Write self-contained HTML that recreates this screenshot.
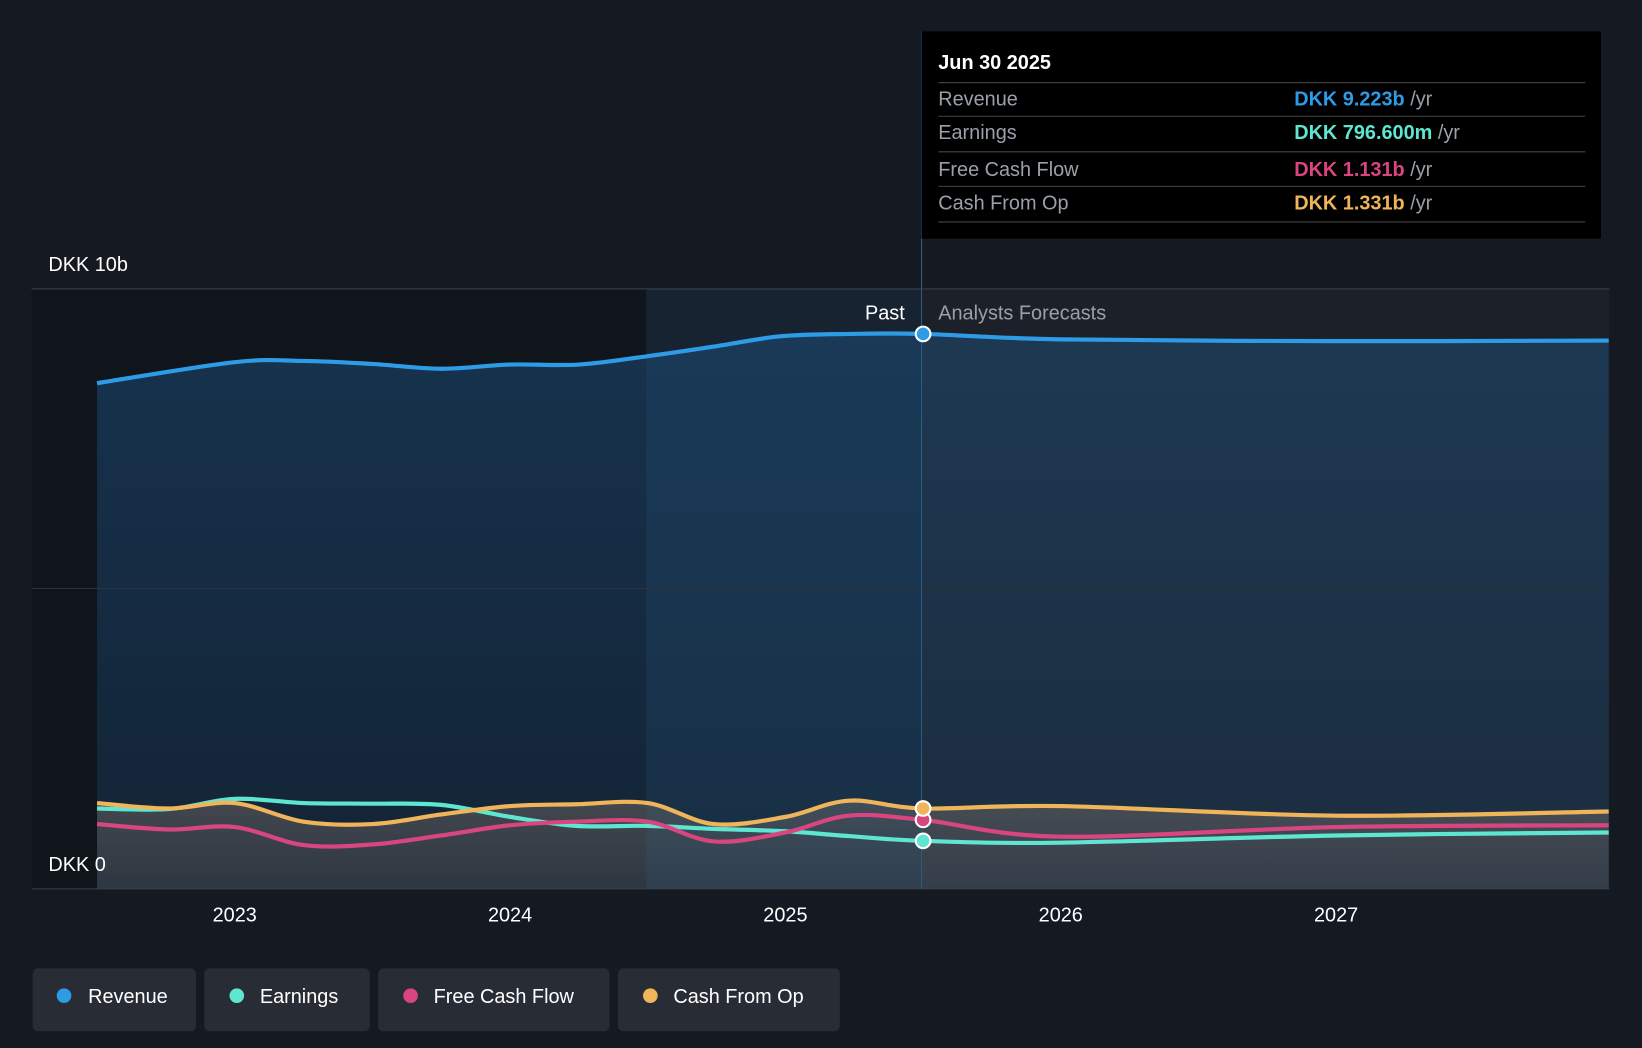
<!DOCTYPE html>
<html><head><meta charset="utf-8"><style>
html,body{margin:0;padding:0;background:#151a22;}
svg{display:block;font-family:"Liberation Sans",Arial,sans-serif;}
</style></head><body>
<svg id="chart" width="1642" height="1048" viewBox="0 0 1568 1001">
<defs>
<linearGradient id="revG" x1="0" y1="0" x2="0" y2="1"><stop offset="0" stop-color="#183a5a" stop-opacity="0.8"/><stop offset="1" stop-color="#183a5a" stop-opacity="0.4"/></linearGradient>
<linearGradient id="lowG" x1="0" y1="0" x2="0" y2="1"><stop offset="0" stop-color="#8a7a70" stop-opacity="0.4"/><stop offset="1" stop-color="#8a7a70" stop-opacity="0.22"/></linearGradient>
</defs>
<rect width="1568" height="1001" fill="#151a22"/>
<rect x="30" y="276" width="587" height="573" fill="#10141b"/>
<g id="areas"></g>
<rect x="880" y="276" width="657" height="573" fill="#6a7480" opacity="0.08"/>
<rect x="617" y="276" width="263" height="573" fill="#2a6aa0" opacity="0.12"/>
<line x1="30" y1="276" x2="1537" y2="276" stroke="#3a404a"/>
<line x1="30" y1="562" x2="1537" y2="562" stroke="#2c333d"/>
<line x1="30" y1="849" x2="1537" y2="849" stroke="#3a404a"/>
<line x1="880" y1="30" x2="880" y2="849" stroke="#2d5b80"/>
<g id="lines"></g>
<g id="xticks"></g>
<text x="46" y="259" fill="#fff" font-size="19">DKK 10b</text>
<text x="46" y="832" fill="#fff" font-size="19">DKK 0</text>
<text x="864" y="305" fill="#fff" font-size="19" text-anchor="end">Past</text>
<text x="896" y="305" fill="#9aa0a8" font-size="19">Analysts Forecasts</text>
<g>
<rect x="880" y="30" width="649" height="198" fill="#000"/>
<text x="896" y="66" fill="#fff" font-size="19" font-weight="bold">Jun 30 2025</text>
<line x1="896" y1="79" x2="1514" y2="79" stroke="#444"/>
<text x="896" y="101" fill="#9aa0a8" font-size="19">Revenue</text>
<text x="1236" y="101" font-size="19"><tspan fill="#2e9be6" font-weight="bold">DKK 9.223b</tspan><tspan fill="#9aa0a8"> /yr</tspan></text>
<line x1="896" y1="111" x2="1514" y2="111" stroke="#444"/>
<text x="896" y="133" fill="#9aa0a8" font-size="19">Earnings</text>
<text x="1236" y="133" font-size="19"><tspan fill="#5ee6d0" font-weight="bold">DKK 796.600m</tspan><tspan fill="#9aa0a8"> /yr</tspan></text>
<line x1="896" y1="145" x2="1514" y2="145" stroke="#444"/>
<text x="896" y="168" fill="#9aa0a8" font-size="19">Free Cash Flow</text>
<text x="1236" y="168" font-size="19"><tspan fill="#d9467f" font-weight="bold">DKK 1.131b</tspan><tspan fill="#9aa0a8"> /yr</tspan></text>
<line x1="896" y1="178" x2="1514" y2="178" stroke="#444"/>
<text x="896" y="200" fill="#9aa0a8" font-size="19">Cash From Op</text>
<text x="1236" y="200" font-size="19"><tspan fill="#f0b45a" font-weight="bold">DKK 1.331b</tspan><tspan fill="#9aa0a8"> /yr</tspan></text>
<line x1="896" y1="212" x2="1514" y2="212" stroke="#444"/>
</g>
<g id="dots"></g>
<g>
<g><rect x="31" y="925" width="156" height="60" rx="5" fill="#272c35"/><circle cx="61" cy="951" r="7" fill="#2e9be6"/><text x="84" y="958" fill="#fff" font-size="19">Revenue</text></g>
<g><rect x="195" y="925" width="158" height="60" rx="5" fill="#272c35"/><circle cx="226" cy="951" r="7" fill="#5ee6d0"/><text x="248" y="958" fill="#fff" font-size="19">Earnings</text></g>
<g><rect x="361" y="925" width="221" height="60" rx="5" fill="#272c35"/><circle cx="392" cy="951" r="7" fill="#d9467f"/><text x="414" y="958" fill="#fff" font-size="19">Free Cash Flow</text></g>
<g><rect x="590" y="925" width="212" height="60" rx="5" fill="#272c35"/><circle cx="621" cy="951" r="7" fill="#f0b45a"/><text x="643" y="958" fill="#fff" font-size="19">Cash From Op</text></g>
</g>
</svg>
<script>
const revYears=[2022.5,2023,2023.25,2023.5,2023.75,2024,2024.25,2024.5,2024.74,2024.98,2025.23,2025.5,2026,2027,2027.99];
const revenue=[8.43,8.78,8.80,8.75,8.67,8.74,8.74,8.88,9.04,9.21,9.25,9.25,9.16,9.13,9.14];
const lowYears=[2022.5,2022.76,2023,2023.25,2023.5,2023.75,2024,2024.24,2024.5,2024.74,2025,2025.23,2025.5,2026,2027,2027.99];
const earnings=[1.34,1.33,1.50,1.43,1.42,1.40,1.20,1.05,1.05,1.00,0.96,0.88,0.80,0.77,0.89,0.94];
const fcf=[1.08,0.99,1.03,0.73,0.74,0.89,1.06,1.12,1.12,0.79,0.94,1.22,1.15,0.87,1.03,1.06];
const cfo=[1.43,1.34,1.43,1.12,1.08,1.24,1.38,1.41,1.43,1.08,1.20,1.47,1.34,1.38,1.22,1.29];
const xTicks=[2023,2024,2025,2026,2027];
const NS='http://www.w3.org/2000/svg';
function xS(y){return 224+(y-2023)*263;}
function yS(v){return 849-v*57.3;}
function pathD(xs,vs){const p=xs.map((x,i)=>[xS(x),yS(vs[i])]);let d='M'+p[0][0]+','+p[0][1];
for(let i=0;i<p.length-1;i++){const p0=p[i-1]||p[i],p1=p[i],p2=p[i+1],p3=p[i+2]||p2;
d+=' C'+(p1[0]+(p2[0]-p0[0])/6)+','+(p1[1]+(p2[1]-p0[1])/6)+' '+(p2[0]-(p3[0]-p1[0])/6)+','+(p2[1]-(p3[1]-p1[1])/6)+' '+p2[0]+','+p2[1];}return d;}
function mk(tag,attrs,parent){const e=document.createElementNS(NS,tag);for(const k in attrs)e.setAttribute(k,attrs[k]);document.getElementById(parent).appendChild(e);return e;}
const base=' L'+xS(revYears[revYears.length-1])+','+yS(0)+' L'+xS(revYears[0])+','+yS(0)+' Z';
let a=mk('path',{d:pathD(revYears,revenue)+base,fill:'url(#revG)'},'areas');


a=mk('path',{d:pathD(lowYears,cfo)+base,fill:'url(#lowG)'},'areas');


const series=[['revenue-line',revYears,revenue,'#2e9be6'],['earnings-line',lowYears,earnings,'#5ee6d0'],['free-cash-flow-line',lowYears,fcf,'#d9467f'],['cash-from-op-line',lowYears,cfo,'#f0b45a']];
series.forEach(s=>{const l=mk('path',{d:pathD(s[1],s[2]),fill:'none',stroke:s[3],'stroke-width':4},'lines');


const i=s[1].indexOf(2025.5);
const c=mk('circle',{cx:xS(2025.5),cy:yS(s[2][i]),r:7,fill:s[3],stroke:'#fff','stroke-width':2},'dots');

});
xTicks.forEach(t=>{const e=mk('text',{x:xS(t),y:880,fill:'#fff','font-size':19,'text-anchor':'middle'},'xticks');e.textContent=t;

});
</script>
</body></html>
